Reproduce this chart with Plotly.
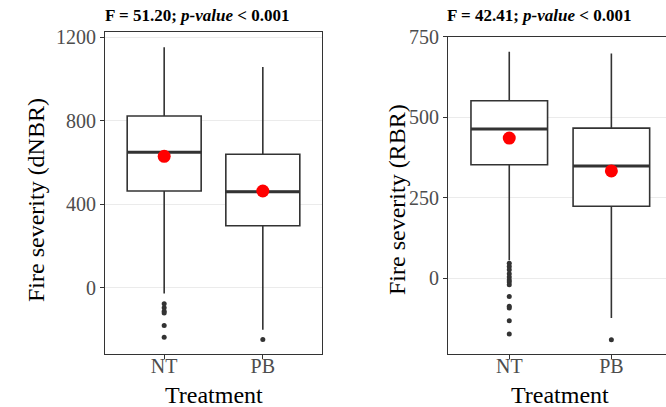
import plotly.graph_objects as go

W, H = 666, 407

categories = ["NT", "PB"]
cat_pos = [1, 2]

# Panel A: dNBR
dnbr_q1 = [464, 298]
dnbr_median = [650, 461]
dnbr_q3 = [823, 640]
dnbr_lower = [-27, -200]
dnbr_upper = [1152, 1058]
dnbr_mean = [630, 464]
dnbr_outliers = {"NT": [-75, -95, -112, -120, -180, -236], "PB": [-247]}

# Panel B: RBR
rbr_q1 = [352, 223]
rbr_median = [463, 348]
rbr_q3 = [551, 466]
rbr_lower = [55, -124]
rbr_upper = [703, 698]
rbr_mean = [435, 333]
rbr_outliers = {"NT": [46, 36, 26, 13, 3, -6, -12, -21, -57, -88, -93, -133, -174], "PB": [-192]}

titles = ["F = 51.20; <i>p-value</i> < 0.001", "F = 42.41; <i>p-value</i> < 0.001"]
ytitles = ["Fire severity (dNBR)", "Fire severity (RBR)"]
xtitle = "Treatment"
yticks_a = [0, 400, 800, 1200]
yticks_b = [0, 250, 500, 750]

BOXW = 0.75
SERIF = "Liberation Serif"
LINE = "#333333"

fig = go.Figure()

panels = [
    dict(q1=dnbr_q1, med=dnbr_median, q3=dnbr_q3, lo=dnbr_lower, hi=dnbr_upper,
         mean=dnbr_mean, out=dnbr_outliers, xa="x", ya="y"),
    dict(q1=rbr_q1, med=rbr_median, q3=rbr_q3, lo=rbr_lower, hi=rbr_upper,
         mean=rbr_mean, out=rbr_outliers, xa="x2", ya="y2"),
]

for p in panels:
    for i, c in enumerate(categories):
        fig.add_trace(go.Box(
            x=[cat_pos[i]], q1=[p["q1"][i]], median=[p["med"][i]], q3=[p["q3"][i]],
            lowerfence=[p["lo"][i]], upperfence=[p["hi"][i]],
            width=BOXW, whiskerwidth=0, fillcolor="white",
            line=dict(color=LINE, width=1.6), boxpoints=False,
            xaxis=p["xa"], yaxis=p["ya"], showlegend=False, hoverinfo="skip"))
        # thick median line
        fig.add_trace(go.Scatter(
            x=[cat_pos[i] - BOXW / 2, cat_pos[i] + BOXW / 2], y=[p["med"][i]] * 2,
            mode="lines", line=dict(color=LINE, width=3),
            xaxis=p["xa"], yaxis=p["ya"], showlegend=False, hoverinfo="skip"))
        # outliers
        outs = p["out"][c]
        fig.add_trace(go.Scatter(
            x=[cat_pos[i]] * len(outs), y=outs, mode="markers",
            marker=dict(color="#333333", size=5),
            xaxis=p["xa"], yaxis=p["ya"], showlegend=False, hoverinfo="skip"))
    # means
    fig.add_trace(go.Scatter(
        x=cat_pos, y=p["mean"], mode="markers",
        marker=dict(color="#ff0000", size=13),
        xaxis=p["xa"], yaxis=p["ya"], showlegend=False))


def px_x(v):
    return v / W


def px_y(v):
    return 1 - v / H


axis_common = dict(showline=True, linecolor=LINE, linewidth=1.2, ticks="outside",
                   ticklen=4, tickcolor=LINE, tickwidth=1,
                   tickfont=dict(family=SERIF, size=20, color="#4d4d4d"),
                   zeroline=False, automargin=False)

fig.update_layout(
    width=W, height=H, margin=dict(l=0, r=0, t=0, b=0, autoexpand=False),
    plot_bgcolor="white", paper_bgcolor="white", showlegend=False,
    xaxis=dict(domain=[px_x(105), px_x(322)], range=[0.4, 2.6], tickvals=cat_pos,
               ticktext=categories, showgrid=False, mirror=True, anchor="y",
               ticklabelstandoff=-10, **axis_common),
    yaxis=dict(domain=[px_y(354), px_y(32)], range=[-316, 1225], tickvals=yticks_a,
               showgrid=True, gridcolor="#ebebeb", gridwidth=1, mirror=True, anchor="x",
               **axis_common),
    xaxis2=dict(domain=[px_x(448), 1.0], range=[0.4, 2.535], tickvals=cat_pos,
                ticktext=categories, showgrid=False, mirror=True, anchor="y2",
                ticklabelstandoff=-10, **axis_common),
    yaxis2=dict(domain=[px_y(354), px_y(36.7)], range=[-236, 750], tickvals=yticks_b,
                showgrid=True, gridcolor="#ebebeb", gridwidth=1, mirror=False, anchor="x2",
                **axis_common),
)

ann = []
# plot titles
for t, xpx in zip(titles, [103, 445]):
    ann.append(dict(text="<b>" + t + "</b>", x=px_x(xpx), y=px_y(15), xref="paper", yref="paper",
                    xanchor="left", yanchor="middle", showarrow=False,
                    font=dict(family=SERIF, size=17, color="black")))
# y titles
for t, xpx, ypx in zip(ytitles, [36, 397], [200, 200]):
    ann.append(dict(text=t, x=px_x(xpx), y=px_y(ypx), xref="paper", yref="paper",
                    xanchor="center", yanchor="middle", textangle=-90, showarrow=False,
                    font=dict(family=SERIF, size=24, color="black")))
# x titles
for xpx in [214, 560]:
    ann.append(dict(text=xtitle, x=px_x(xpx), y=px_y(395), xref="paper", yref="paper",
                    xanchor="center", yanchor="middle", showarrow=False,
                    font=dict(family=SERIF, size=24, color="black")))
fig.update_layout(annotations=ann)

fig.write_html("out.html")
